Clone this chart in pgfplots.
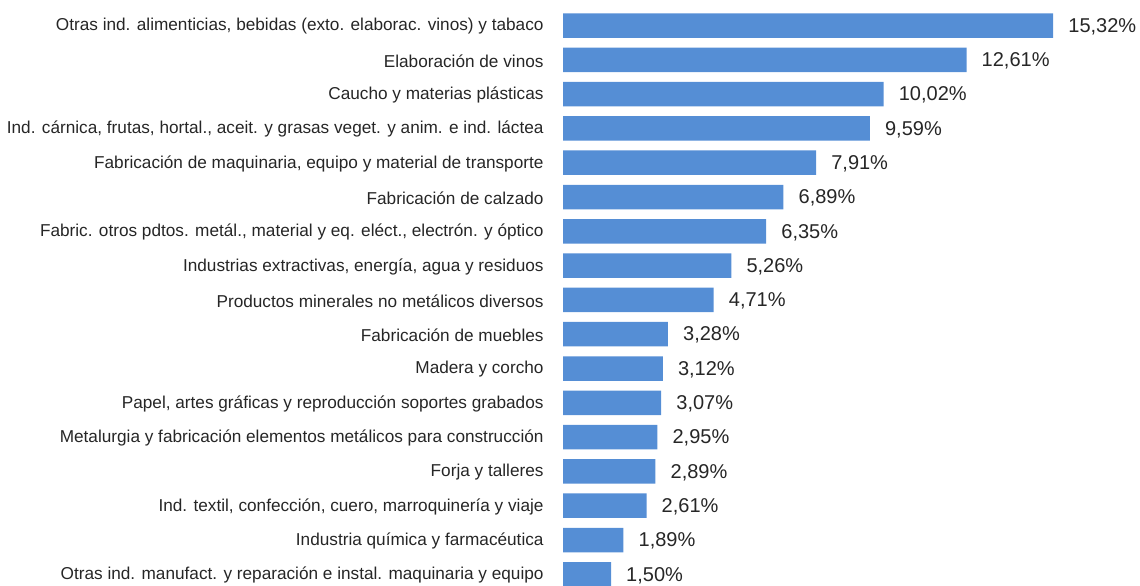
\documentclass[border=0pt]{standalone}
\usepackage{fontspec}
\setmainfont{Liberation Sans}
\usepackage{pgfplots}
\pgfplotsset{compat=1.18}
\definecolor{barblue}{HTML}{558ED5}
\definecolor{txt}{HTML}{262626}
\begin{document}
\begin{tikzpicture}
\useasboundingbox (0,0) rectangle (1140pt,586pt);
\begin{axis}[
  at={(563pt,-5.45pt)}, anchor=south west,
  scale only axis, width=576pt, height=583.1pt,
  xbar, bar width=24.5pt,
  xmin=0, xmax=18,
  ymin=-0.5, ymax=16.5, y dir=reverse,
  axis line style={draw=none},
  xtick=\empty,
  ytick={0,...,16},
  ytick style={draw=none},
  yticklabels={
    {Otras ind. alimenticias, bebidas (exto. elaborac. vinos) y tabaco},
    {Elaboración de vinos},
    {Caucho y materias plásticas},
    {Ind. cárnica, frutas, hortal., aceit. y grasas veget. y anim. e ind. láctea},
    {Fabricación de maquinaria, equipo y material de transporte},
    {Fabricación de calzado},
    {Fabric. otros pdtos. metál., material y eq. eléct., electrón. y óptico},
    {Industrias extractivas, energía, agua y residuos},
    {Productos minerales no metálicos diversos},
    {Fabricación de muebles},
    {Madera y corcho},
    {Papel, artes gráficas y reproducción soportes grabados},
    {Metalurgia y fabricación elementos metálicos para construcción},
    {Forja y talleres},
    {Ind. textil, confección, cuero, marroquinería y viaje},
    {Industria química y farmacéutica},
    {Otras ind. manufact. y reparación e instal. maquinaria y equipo}},
  yticklabel style={anchor=east, inner sep=0pt, xshift=-15pt, yshift=-1pt, text=txt, font=\fontsize{17.2}{20}\selectfont},
  clip=false,
  point meta=x,
  nodes near coords={\pgfmathprintnumber[fixed, fixed zerofill, precision=2, use comma, assume math mode=true]{\pgfplotspointmeta}\%},
  nodes near coords style={anchor=west, inner sep=0pt, xshift=15pt, yshift=-1pt, text=txt, font=\fontsize{20}{23}\selectfont},
]
\addplot[fill=barblue, draw=none] coordinates {
  (15.32,0) (12.61,1) (10.02,2) (9.59,3) (7.91,4) (6.89,5) (6.35,6) (5.26,7)
  (4.71,8) (3.28,9) (3.12,10) (3.07,11) (2.95,12) (2.89,13) (2.61,14) (1.89,15) (1.50,16)
};
\end{axis}
\end{tikzpicture}
\end{document}
